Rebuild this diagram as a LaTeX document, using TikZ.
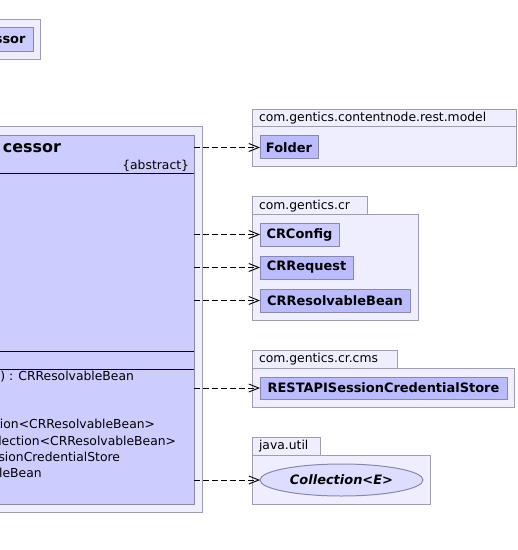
\documentclass[tikz,border=0pt]{standalone}
\usepackage{fontspec}
\setmainfont{DejaVu Sans}
\usetikzlibrary{arrows.meta,shapes.geometric}
\definecolor{pkgfill}{RGB}{238,238,255}
\definecolor{pkgline}{RGB}{158,158,178}
\definecolor{clsfill}{RGB}{204,204,255}
\definecolor{clsdark}{RGB}{187,187,255}
\definecolor{ellfill}{RGB}{221,221,255}
\definecolor{clsline}{RGB}{136,136,170}
\begin{document}
\begin{tikzpicture}[x=1bp,y=-1bp,
  every node/.style={inner sep=0pt,outer sep=0pt},
  pkg/.style={draw=pkgline,fill=pkgfill,line width=1bp,rectangle},
  cls/.style={draw=clsline,fill=clsdark,line width=1bp,rectangle,font=\fontsize{13}{15}\selectfont\bfseries},
  clslight/.style={cls,fill=clsfill},
  lbl/.style={font=\fontsize{12.4}{14}\selectfont},
  dep/.style={dash pattern=on 6bp off 3bp,line width=0.9bp,-{Straight Barb[length=10bp,width=8bp]}}
]
\useasboundingbox (0,0) rectangle (518,550);
\clip (0,0) rectangle (518,550);

% top-left partial class
\node[pkg,minimum width=50bp,minimum height=40bp] (tlout) at (15,40) {};
\node[clslight,minimum width=43bp,minimum height=24bp] (tlin) at (11.5,40) {};
\node[font=\fontsize{13}{15}\selectfont\bfseries,anchor=east] (tltext) at (25.5,40) {ssor};

% main class
\node[pkg,minimum width=212bp,minimum height=385bp] (mainout) at (96,319.5) {};
\node[clslight,minimum width=204bp,minimum height=368bp] (main) at (92,320) {};
\node[font=\fontsize{16}{18}\selectfont\bfseries,anchor=east] (title) at (61,148) {cessor};
\node[lbl,anchor=east] (abs) at (189,165.5) {\{abstract\}};
\coordinate (l1a) at (-10,174); \coordinate (l1b) at (194,174);
\coordinate (l2a) at (-10,351); \coordinate (l2b) at (194,351);
\coordinate (l3a) at (-10,369); \coordinate (l3b) at (194,369);
\draw[line width=1bp] (l1a) -- (l1b);
\draw[line width=1bp] (l2a) -- (l2b);
\draw[line width=1bp] (l3a) -- (l3b);
\node[lbl,anchor=west] (m1) at (0.3,377) {) : CRResolvableBean};
\node[lbl,anchor=east] (m2) at (155,424) {tion<CRResolvableBean>};
\node[lbl,anchor=east] (m3) at (176,440.5) {lection<CRResolvableBean>};
\node[lbl,anchor=east] (m4) at (120,456.5) {sionCredentialStore};
\node[lbl,anchor=east] (m5) at (41.7,472.5) {leBean};

% package com.gentics.contentnode.rest.model
\node[pkg,minimum width=264bp,minimum height=17bp] (p1tab) at (384,118.5) {};
\node[pkg,minimum width=264bp,minimum height=40bp] (p1) at (384,147) {};
\node[lbl,anchor=west] (p1lbl) at (259,118.5) {com.gentics.contentnode.rest.model};
\node[cls,minimum width=58bp,minimum height=23bp] (folder) at (289,147.5) {Folder};

% package com.gentics.cr
\node[pkg,minimum width=115bp,minimum height=18bp] (p2tab) at (309.5,206) {};
\node[pkg,minimum width=166bp,minimum height=105bp] (p2) at (335,267.5) {};
\node[lbl,anchor=west] (p2lbl) at (259,206) {com.gentics.cr};
\node[clslight,minimum width=79bp,minimum height=23bp] (crconfig) at (299.5,234.5) {CRConfig};
\node[cls,minimum width=93bp,minimum height=23bp] (crrequest) at (306.5,267.5) {CRRequest};
\node[cls,minimum width=150bp,minimum height=23bp] (crbean) at (335,300.5) {CRResolvableBean};

% package com.gentics.cr.cms
\node[pkg,minimum width=145bp,minimum height=18bp] (p3tab) at (324.5,359) {};
\node[pkg,minimum width=262bp,minimum height=39bp] (p3) at (383,387.5) {};
\node[lbl,anchor=west] (p3lbl) at (259,359) {com.gentics.cr.cms};
\node[cls,minimum width=247bp,minimum height=22bp] (rest) at (383.5,388) {RESTAPISessionCredentialStore};

% package java.util
\node[pkg,minimum width=68bp,minimum height=18bp] (p4tab) at (286,446) {};
\node[pkg,minimum width=178bp,minimum height=49bp] (p4) at (341,479.5) {};
\node[lbl,anchor=west] (p4lbl) at (259,446) {java.util};
\node[ellipse,draw=clsline,fill=ellfill,line width=1bp,minimum width=163bp,minimum height=32bp,
  font=\fontsize{13}{15}\selectfont\bfseries\itshape] (coll) at (341.5,480) {Collection<E>};

% dependencies
\draw[dep] (main.east |- folder.west) -- (folder.west);
\draw[dep] (main.east |- crconfig.west) -- (crconfig.west);
\draw[dep] (main.east |- crrequest.west) -- (crrequest.west);
\draw[dep] (main.east |- crbean.west) -- (crbean.west);
\draw[dep] (main.east |- rest.west) -- (rest.west);
\draw[dep] (main.east |- coll.west) -- (coll.west);
\end{tikzpicture}
\end{document}
